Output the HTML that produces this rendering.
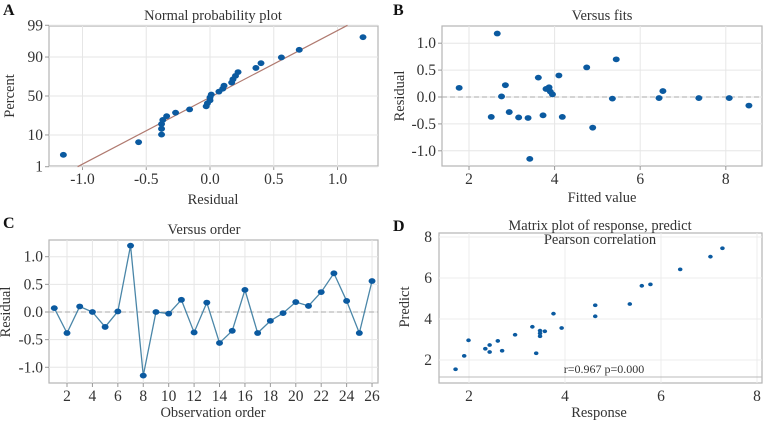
<!DOCTYPE html>
<html><head><meta charset="utf-8">
<style>
html,body{margin:0;padding:0;background:#fff;}
svg{display:block;}
svg text{font-family:"Liberation Serif","DejaVu Serif",serif;}
</style></head>
<body>
<svg id="fig" width="768" height="424" viewBox="0 0 768 424" xmlns="http://www.w3.org/2000/svg" font-family="Liberation Serif, serif"></svg>
<script>
// Panel C residuals by observation order (also used for normal probability plot)
const orderIdx = [1,2,3,4,5,6,7,8,9,10,11,12,13,14,15,16,17,18,19,20,21,22,23,24,25,26];
const residuals = [0.07,-0.38,0.10,0.00,-0.27,0.01,1.20,-1.15,0.00,-0.03,0.22,-0.37,0.17,-0.56,-0.34,0.40,-0.38,-0.16,-0.02,0.18,0.11,0.36,0.70,0.20,-0.38,0.56];
// Panel B
const fitted = [2.66,1.77,2.52,2.76,2.85,2.94,3.16,3.38,3.42,3.62,3.73,3.80,3.87,3.90,3.95,4.10,4.18,4.75,4.89,5.35,5.44,6.44,6.53,7.37,8.08,8.54];
const fitRes = [1.18,0.17,-0.37,0.01,0.22,-0.28,-0.38,-0.39,-1.15,0.36,-0.34,0.15,0.18,0.10,0.05,0.40,-0.37,0.55,-0.57,-0.03,0.70,-0.02,0.11,-0.02,-0.02,-0.16];
// Panel D
const response = [1.72,1.90,1.99,2.34,2.43,2.43,2.60,2.69,2.96,3.32,3.40,3.48,3.48,3.48,3.58,3.76,3.93,4.63,4.63,5.35,5.60,5.78,6.40,7.03,7.28];
const predict = [1.55,2.20,2.96,2.55,2.73,2.39,2.93,2.45,3.23,3.62,2.33,3.43,3.30,3.16,3.40,4.26,3.56,4.67,4.13,4.73,5.62,5.69,6.42,7.04,7.45];
// Tick labels
const aXTicks = [-1.0,-0.5,0.0,0.5,1.0];
const aYTicks = [1,10,50,90,99];
const bXTicks = [2,4,6,8];
const resTicks = [1.0,0.5,0.0,-0.5,-1.0];
const cXTicks = [2,4,6,8,10,12,14,16,18,20,22,24,26];
const dTicks = [2,4,6,8];
const fitMean = 0.02, fitSd = 0.455;

const svg = document.getElementById('fig');
const NS = 'http://www.w3.org/2000/svg';
const TICK = 15.5, LAB = 14.5;
function el(tag, attrs, parent){
  const e = document.createElementNS(NS, tag);
  for (const k in attrs) e.setAttribute(k, attrs[k]);
  (parent||svg).appendChild(e);
  return e;
}
function txt(s, x, y, size, anchor, parent, extra){
  const t = el('text', Object.assign({x:x, y:y, 'font-size':size, 'text-anchor':anchor||'middle', fill:'#333', 'font-family':'Liberation Serif, serif'}, extra||{}), parent);
  t.textContent = s;
  return t;
}
function fmt(v){ return v.toFixed(1); }
function invNorm(p){
  const a=[-39.69683028665376,220.9460984245205,-275.9285104469687,138.3577518672690,-30.66479806614716,2.506628277459239];
  const b=[-54.47609879822406,161.5858158987054,-155.6989798598866,66.80131188771972,-13.28068155288572];
  const c=[-0.007784894002430293,-0.3223964580411365,-2.400758277161838,-2.549732539343734,4.374664141464968,2.938163982698783];
  const d=[0.007784695709041462,0.3224671290700398,2.445134137142996,3.754408661907416];
  const pl=0.02425;
  let q,r;
  if(p<pl){q=Math.sqrt(-2*Math.log(p));return (((((c[0]*q+c[1])*q+c[2])*q+c[3])*q+c[4])*q+c[5])/((((d[0]*q+d[1])*q+d[2])*q+d[3])*q+1);}
  if(p>1-pl){q=Math.sqrt(-2*Math.log(1-p));return -(((((c[0]*q+c[1])*q+c[2])*q+c[3])*q+c[4])*q+c[5])/((((d[0]*q+d[1])*q+d[2])*q+d[3])*q+1);}
  q=p-0.5;r=q*q;
  return (((((a[0]*r+a[1])*r+a[2])*r+a[3])*r+a[4])*r+a[5])*q/(((((b[0]*r+b[1])*r+b[2])*r+b[3])*r+b[4])*r+1);
}
function frame(g, x0,y0,x1,y1){
  el('rect',{x:x0,y:y0,width:x1-x0,height:y1-y0,fill:'#fff',stroke:'#b5b5b5','stroke-width':1.2},g);
}
function dot(g,x,y,r,name){
  const c = el('ellipse',{cx:x,cy:y,rx:r*1.2,ry:r,fill:'#0b5aa0'},g);
  
  
  return c;
}

// ---------- Panel A ----------
(function(){
  const g = el('g',{});
  const X0=49,X1=378,Y0=26,Y1=166;
  const sx = v => 210 + v*127.5;
  const sy = p => 96 - invNorm(p/100)*30.4;
  frame(g,X0,Y0,X1,Y1);
  aXTicks.forEach(t=>{ el('line',{x1:sx(t),x2:sx(t),y1:Y0,y2:Y1,stroke:'#e6e6e6'},g); el('line',{x1:sx(t),x2:sx(t),y1:Y1,y2:Y1+4,stroke:'#999'},g); txt(fmt(t),sx(t),Y1+18,TICK,'middle',g);});
  aYTicks.forEach(t=>{ el('line',{x1:X0,x2:X1,y1:sy(t),y2:sy(t),stroke:'#e6e6e6'},g); el('line',{x1:X0-4,x2:X0,y1:sy(t),y2:sy(t),stroke:'#999'},g); txt(String(t),X0-6,sy(t)+5,TICK,'end',g);});
  const zl=-2.326, zh=2.326;
  const rl = fitMean+zl*fitSd, rh = fitMean+zh*fitSd;
  const ln = el('line',{x1:sx(rl),y1:96-zl*30.4,x2:sx(rh),y2:96-zh*30.4,stroke:'#b07a70','stroke-width':1.2},g);
  
  
  const sorted = residuals.slice().sort((a,b)=>a-b);
  const n = sorted.length;
  sorted.forEach((v,i)=>{ dot(g,sx(v),sy(100*(i+0.7)/(n+0.4)),2.9,'prob-point'); });
  txt('Normal probability plot',213,20,LAB,'middle',g,{});
  txt('Residual',213,204,LAB,'middle',g,{});
  txt('Percent',14,96,LAB,'middle',g,{transform:'rotate(-90 14 96)',});
  txt('A',3,15,16,'start',g,{'font-weight':'bold',fill:'#111',});
})();

// ---------- Panel B ----------
(function(){
  const g = el('g',{});
  const X0=442,X1=762,Y0=26,Y1=166;
  const sx = v => 469 + (v-2)*42.8;
  const sy = v => 97 - v*53.8;
  frame(g,X0,Y0,X1,Y1);
  bXTicks.forEach(t=>{ el('line',{x1:sx(t),x2:sx(t),y1:Y0,y2:Y1,stroke:'#e6e6e6'},g); el('line',{x1:sx(t),x2:sx(t),y1:Y1,y2:Y1+4,stroke:'#999'},g); txt(String(t),sx(t),Y1+18,TICK,'middle',g);});
  resTicks.forEach(t=>{ el('line',{x1:X0,x2:X1,y1:sy(t),y2:sy(t),stroke:'#e6e6e6'},g); el('line',{x1:X0-4,x2:X0,y1:sy(t),y2:sy(t),stroke:'#999'},g); txt(fmt(t),X0-6,sy(t)+5,TICK,'end',g);});
  el('line',{x1:X0,x2:X1,y1:sy(0),y2:sy(0),stroke:'#aaa','stroke-dasharray':'5,3'},g);
  fitted.forEach((f,i)=>dot(g,sx(f),sy(fitRes[i]),2.9,'fit-point'));
  txt('Versus fits',602,20,LAB,'middle',g,{});
  txt('Fitted value',602,202,LAB,'middle',g,{});
  txt('Residual',404,96,LAB,'middle',g,{transform:'rotate(-90 404 96)',});
  txt('B',393,15,16,'start',g,{'font-weight':'bold',fill:'#111',});
})();

// ---------- Panel C ----------
(function(){
  const g = el('g',{});
  const X0=49,X1=378,Y0=240,Y1=383;
  const sx = v => 67 + (v-2)*12.71;
  const sy = v => 312 - v*55.3;
  frame(g,X0,Y0,X1,Y1);
  cXTicks.forEach(t=>{ el('line',{x1:sx(t),x2:sx(t),y1:Y0,y2:Y1,stroke:'#e6e6e6'},g); el('line',{x1:sx(t),x2:sx(t),y1:Y1,y2:Y1+4,stroke:'#999'},g); txt(String(t),sx(t),Y1+18,TICK,'middle',g);});
  resTicks.forEach(t=>{ el('line',{x1:X0,x2:X1,y1:sy(t),y2:sy(t),stroke:'#e6e6e6'},g); el('line',{x1:X0-4,x2:X0,y1:sy(t),y2:sy(t),stroke:'#999'},g); txt(fmt(t),X0-6,sy(t)+5,TICK,'end',g);});
  el('line',{x1:X0,x2:X1,y1:sy(0),y2:sy(0),stroke:'#aaa','stroke-dasharray':'5,3'},g);
  const pts = orderIdx.map((o,i)=>sx(o)+','+sy(residuals[i])).join(' ');
  const pl = el('polyline',{points:pts,fill:'none',stroke:'#4a86a8','stroke-width':1.3},g);
  
  
  orderIdx.forEach((o,i)=>dot(g,sx(o),sy(residuals[i]),2.9,'order-point'));
  txt('Versus order',204,234,LAB,'middle',g,{});
  txt('Observation order',213,417,LAB,'middle',g,{});
  txt('Residual',10,312,LAB,'middle',g,{transform:'rotate(-90 10 312)',});
  txt('C',3,228,16,'start',g,{'font-weight':'bold',fill:'#111',});
})();

// ---------- Panel D ----------
(function(){
  const g = el('g',{});
  const X0=439,X1=762,Y0=233,Y1=383;
  const sx = v => 469 + (v-2)*48;
  const sy = v => 360 - (v-2)*20.5;
  frame(g,X0,Y0,X1,Y1);
  dTicks.forEach(t=>{ el('line',{x1:sx(t),x2:sx(t),y1:Y0,y2:Y1,stroke:'#ececec'},g); txt(String(t),sx(t),Y1+18,TICK,'middle',g);});
  dTicks.forEach(t=>{ el('line',{x1:X0,x2:X1,y1:sy(t),y2:sy(t),stroke:'#ececec'},g); txt(String(t),X0-7,sy(t)+5,TICK,'end',g);});
  el('line',{x1:X0,x2:X1,y1:377,y2:377,stroke:'#bbb'},g);
  response.forEach((r,i)=>dot(g,sx(r),sy(predict[i]),1.9,'predict-point'));
  txt('r=0.967 p=0.000',604,373,12,'middle',g,{});
  txt('Matrix plot of response, predict',600,230,LAB,'middle',g,{});
  txt('Pearson correlation',600,244,LAB,'middle',g,{});
  txt('Response',599,417,LAB,'middle',g,{});
  txt('Predict',409,307,LAB,'middle',g,{transform:'rotate(-90 409 307)',});
  txt('D',393,231,16,'start',g,{'font-weight':'bold',fill:'#111',});
})();
</script>
</body></html>
